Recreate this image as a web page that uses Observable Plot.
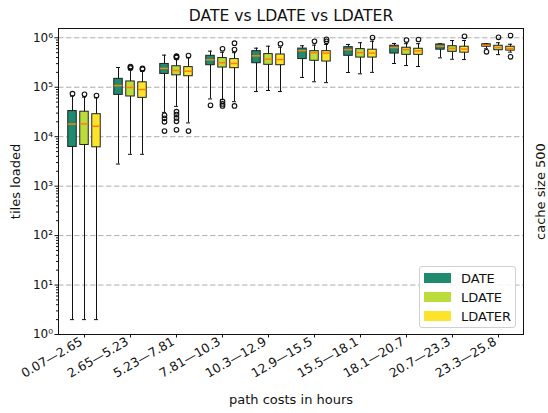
<!DOCTYPE html>
<html>
<head>
<meta charset="utf-8">
<script src="https://cdn.jsdelivr.net/npm/d3@7"></script>
<script src="https://cdn.jsdelivr.net/npm/@observablehq/plot@0.6"></script>
<style>
  body { margin: 0; background: #fff; }
  #wrap { position: relative; width: 548px; height: 413px; font-family: "DejaVu Sans", sans-serif; }
  .legend { position: absolute; left: 419px; top: 266px; width: 97px; height: 62px;
            border: 1px solid #d0d0d0; border-radius: 3px; background: rgba(255,255,255,0.85);
            box-sizing: border-box; }
  .legend .item { position: absolute; left: 4px; height: 14px; display: flex; align-items: center; }
  .legend .sw { width: 27px; height: 10px; margin-right: 10px; }
  .legend .lb { font-size: 13px; color: #111; }
</style>
</head>
<body>
<div id="wrap"></div>
<script>
// Path-cost buckets (hours)
const categories = ["0.07—2.65", "2.65—5.23", "5.23—7.81", "7.81—10.3", "10.3—12.9",
                    "12.9—15.5", "15.5—18.1", "18.1—20.7", "20.7—23.3", "23.3—25.8"];

const seriesNames = ["DATE", "LDATE", "LDATER"];
const seriesColors = ["#1e8a6e", "#bcdc3c", "#fde32a"];

// Box statistics per bucket: whisker low, Q1, median, Q3, whisker high, fliers
const dateLow    = [2, 2800, 31000, 58000, 82000, 158000, 199000, 302000, 393000, 600000];
const dateQ1     = [6200, 70000, 186000, 279000, 306000, 371000, 432000, 480000, 575000, 660000];
const dateMedian = [18000, 108000, 240000, 359000, 432000, 550000, 575000, 635000, 676000, 708000];
const dateQ3     = [33000, 148000, 296000, 432000, 537000, 605000, 646000, 692000, 733000, 740000];
const dateHigh   = [66000, 251000, 446000, 537000, 617000, 690000, 733000, 768000, 760000, 760000];
const dateFliers = [[74000], [], [27000, 23500, 20000, 13000], [43000], [], [], [], [], [], [520000]];

const ldateLow    = [2, 4400, 41000, 56000, 86000, 129000, 187000, 275000, 368000, 457000];
const ldateQ1     = [6800, 65000, 174000, 250000, 284000, 343000, 398000, 452000, 520000, 560000];
const ldateMedian = [18200, 99000, 218000, 313000, 371000, 500000, 500000, 575000, 610000, 635000];
const ldateQ3     = [32000, 131000, 266000, 389000, 468000, 537000, 590000, 630000, 676000, 690000];
const ldateHigh   = [63000, 225000, 376000, 510000, 676000, 710000, 795000, 760000, 881000, 795000];
const ldateFliers = [[72000], [245000, 254000, 262000], [400000, 415000, 425000, 32000, 28000, 24000, 20500, 13800],
                     [600000, 52000, 46000, 42000], [], [850000], [], [900000], [], [1020000]];

const ldaterLow    = [2, 4400, 19000, 51000, 82000, 124000, 200000, 263000, 363000, 513000];
const ldaterQ1     = [6100, 61000, 167000, 243000, 279000, 331000, 398000, 452000, 500000, 550000];
const ldaterMedian = [16300, 90000, 211000, 302000, 363000, 490000, 490000, 543000, 590000, 610000];
const ldaterQ3     = [28500, 126000, 255000, 371000, 460000, 537000, 575000, 600000, 660000, 660000];
const ldaterHigh   = [61000, 209000, 393000, 500000, 646000, 733000, 850000, 760000, 881000, 740000];
const ldaterFliers = [[68000], [232000, 240000], [437000, 13000], [580000, 780000, 42000], [758000],
                      [850000, 933000], [1010000], [923000], [1070000], [1110000, 412000]];

const yMajor = [1, 10, 100, 1e3, 1e4, 1e5, 1e6];

// ---- derived tables ----
const stats = [
  [dateLow, dateQ1, dateMedian, dateQ3, dateHigh, dateFliers],
  [ldateLow, ldateQ1, ldateMedian, ldateQ3, ldateHigh, ldateFliers],
  [ldaterLow, ldaterQ1, ldaterMedian, ldaterQ3, ldaterHigh, ldaterFliers]
];
const boxes = stats.map(([lo, q1, md, q3, hi]) =>
  categories.map((cat, i) => ({cat, lo: lo[i], q1: q1[i], med: md[i], q3: q3[i], hi: hi[i]})));
const fliers = stats.map(s => categories.flatMap((cat, i) => s[5][i].map(v => ({cat, v}))));

const yMinor = [];
for (let e = 0; e < 6; e++) for (let m = 2; m <= 9; m++) yMinor.push(m * 10 ** e);

const sup = {"0": "⁰", "1": "¹", "2": "²", "3": "³", "4": "⁴", "5": "⁵", "6": "⁶"};
const powFmt = d => "10" + String(Math.round(Math.log10(d))).split("").map(c => sup[c]).join("");

const offsets = [-12, 0, 12];
const bandInset = 18.75;   // leaves a 9px wide box inside each 46.5px band
const capInset = 21;

const boxMarks = seriesNames.flatMap((name, s) => {
  const dx = offsets[s];
  return [
    Plot.ruleX(boxes[s], {x: "cat", y1: "lo", y2: "hi", dx, stroke: "#111", strokeWidth: 1}),
    Plot.tickY(boxes[s], {x: "cat", y: "lo", dx, insetLeft: capInset, insetRight: capInset, stroke: "#111", strokeWidth: 1}),
    Plot.tickY(boxes[s], {x: "cat", y: "hi", dx, insetLeft: capInset, insetRight: capInset, stroke: "#111", strokeWidth: 1}),
    Plot.barY(boxes[s], {x: "cat", y1: "q1", y2: "q3", dx, insetLeft: bandInset, insetRight: bandInset,
                          fill: seriesColors[s], stroke: "#222", strokeWidth: 1}),
    Plot.tickY(boxes[s], {x: "cat", y: "med", dx, insetLeft: bandInset, insetRight: bandInset,
                           stroke: "#ff7f0e", strokeWidth: 1.5}),
    Plot.dot(fliers[s], {x: "cat", y: "v", dx, r: 2.3, stroke: "#111", strokeWidth: 1.1, fill: "none"})
  ];
});

const chart = Plot.plot({
  width: 548,
  height: 413,
  marginLeft: 58,
  marginRight: 25,
  marginTop: 28,
  marginBottom: 79,
  style: {fontFamily: "DejaVu Sans, sans-serif", fontSize: "13px", color: "#111", background: "#fff"},
  x: {type: "band", domain: categories, padding: 0},
  y: {type: "log", domain: [1, 10 ** 6.188]},
  marks: [
    Plot.gridY(yMajor.slice(1), {stroke: "#b0b0b0", strokeOpacity: 1, strokeWidth: 1, strokeDasharray: "5.5,2.5"}),
    Plot.axisY(yMinor, {tickSize: 2, tickFormat: () => "", label: null, stroke: "#111"}),
    Plot.axisY(yMajor, {tickSize: 3.5, tickPadding: 2, tickFormat: powFmt, fontSize: 12, label: null, stroke: "#111"}),
    // bucket ticks, then the rotated bucket labels nudged left of their ticks
    Plot.axisX({tickSize: 3.5, tickFormat: () => "", label: null, stroke: "#111"}),
    Plot.axisX({tickSize: 0, tickPadding: 6, tickRotate: -30, fontSize: 12.5, label: null, dx: -3}),
    ...boxMarks,
    Plot.frame({stroke: "#111", strokeWidth: 1}),
    Plot.text(["DATE vs LDATE vs LDATER"], {text: d => d, frameAnchor: "top", lineAnchor: "middle", dy: -12.5, fontSize: 15.6}),
    Plot.text(["path costs in hours"], {text: d => d, frameAnchor: "bottom", lineAnchor: "middle", dy: 65, fontSize: 13}),
    Plot.text(["tiles loaded"], {text: d => d, frameAnchor: "left", textAnchor: "middle", lineAnchor: "middle", dx: -43, rotate: -90, fontSize: 13}),
    Plot.text(["cache size 500"], {text: d => d, frameAnchor: "right", textAnchor: "middle", lineAnchor: "middle", dx: 17, dy: 10, rotate: -90, fontSize: 13})
  ]
});

const wrap = document.getElementById("wrap");
wrap.appendChild(chart);

// Legend drawn as an overlay in the lower-right corner of the plot area
const legend = document.createElement("div");
legend.className = "legend";
const rowTops = [4, 23, 42];
seriesNames.forEach((name, i) => {
  const item = document.createElement("div");
  item.className = "item";
  item.style.top = rowTops[i] + "px";
  const sw = document.createElement("div");
  sw.className = "sw";
  sw.style.background = seriesColors[i];
  const lb = document.createElement("span");
  lb.className = "lb";
  lb.textContent = name;
  item.appendChild(sw);
  item.appendChild(lb);
  legend.appendChild(item);
});
wrap.appendChild(legend);
</script>
</body>
</html>
